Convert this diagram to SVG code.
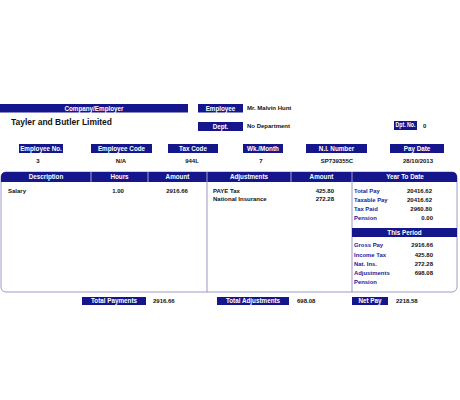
<svg xmlns="http://www.w3.org/2000/svg" width="460" height="400" viewBox="0 0 460 400">
<style>
.bar{fill:#16168c}
.bl{font-family:"Liberation Sans",Arial,sans-serif;font-weight:bold;font-size:6.3px;fill:#fff;text-anchor:middle}
.v{font-family:"Liberation Sans",Arial,sans-serif;font-weight:bold;font-size:6px;fill:#111}
.c{text-anchor:middle}
.r{text-anchor:end}
.lb{font-family:"Liberation Sans",Arial,sans-serif;font-weight:bold;font-size:5.9px;fill:#1a1a9a}
.div{stroke:#8c8cc4;stroke-width:0.9;fill:none}
.hd{stroke:#fff;stroke-width:0.6}
</style>
<rect width="460" height="400" fill="#fff"/>
<g id="company">
<rect class="bar" x="0" y="104" width="188" height="8.5"/>
<text class="bl" x="94" y="110.5">Company/Employer</text>
<text x="11" y="125" font-family="Liberation Sans,Arial,sans-serif" font-weight="bold" font-size="9.5" fill="#111" textLength="101" lengthAdjust="spacingAndGlyphs">Tayler and Butler Limited</text>
</g>
<g id="employee">
<rect class="bar" x="198" y="104" width="45" height="8.5"/>
<text class="bl" x="220.5" y="110.5">Employee</text>
<text class="v" x="247" y="110.3">Mr. Malvin Hunt</text>
</g>
<g id="dept">
<rect class="bar" x="198" y="122" width="45" height="9"/>
<text class="bl" x="220.5" y="128.7">Dept.</text>
<text class="v" x="247" y="127.6">No Department</text>
</g>
<g id="dptno">
<rect class="bar" x="394" y="121" width="23" height="9"/>
<text class="bl" x="405.5" y="127.4" font-size="5" textLength="20" lengthAdjust="spacingAndGlyphs">Dpt. No.</text>
<text class="v" x="423" y="127.5">0</text>
</g>
<g id="empno">
<rect class="bar" x="19" y="144" width="44" height="9"/>
<text class="bl" x="41" y="150.6">Employee No.</text>
<text class="v c" x="38" y="162.5">3</text>
</g>
<g id="empcode">
<rect class="bar" x="91" y="144" width="61" height="9"/>
<text class="bl" x="121.5" y="150.6">Employee Code</text>
<text class="v c" x="121" y="162.5">N/A</text>
</g>
<g id="taxcode">
<rect class="bar" x="168" y="144" width="50" height="9"/>
<text class="bl" x="193" y="150.6">Tax Code</text>
<text class="v c" x="192" y="162.5">944L</text>
</g>
<g id="wkmonth">
<rect class="bar" x="243" y="144" width="40" height="9"/>
<text class="bl" x="263" y="150.6">Wk./Month</text>
<text class="v c" x="261" y="162.5">7</text>
</g>
<g id="ninumber">
<rect class="bar" x="306" y="144" width="61" height="9"/>
<text class="bl" x="336.5" y="150.6">N.I. Number</text>
<text class="v c" x="337" y="162.5">SP739355C</text>
</g>
<g id="paydate">
<rect class="bar" x="390" y="144" width="54" height="9"/>
<text class="bl" x="417" y="150.6">Pay Date</text>
<text class="v c" x="418" y="162.5">28/10/2013</text>
</g>
<g id="table">
<rect x="1" y="172" width="456" height="120" rx="5" fill="#fff" stroke="#9a9acc" stroke-width="1"/>
<path class="bar" d="M1,182 V177 Q1,172 6,172 H452 Q457,172 457,177 V182 Z"/>
<line class="hd" x1="91" y1="172" x2="91" y2="182"/>
<line class="hd" x1="148" y1="172" x2="148" y2="182"/>
<line class="hd" x1="207" y1="172" x2="207" y2="182"/>
<line class="hd" x1="291" y1="172" x2="291" y2="182"/>
<line class="hd" x1="352" y1="172" x2="352" y2="182"/>
<line class="div" x1="207" y1="182" x2="207" y2="292"/>
<line class="div" x1="352" y1="182" x2="352" y2="292"/>
<text class="bl" x="46" y="179.3">Description</text>
<text class="bl" x="119.5" y="179.3">Hours</text>
<text class="bl" x="177.5" y="179.3">Amount</text>
<text class="bl" x="249" y="179.3">Adjustments</text>
<text class="bl" x="321.5" y="179.3">Amount</text>
<text class="bl" x="405" y="179.3">Year To Date</text>
<text class="v" x="8" y="192.5">Salary</text>
<text class="v c" x="118" y="192.5">1.00</text>
<text class="v c" x="177" y="192.5">2916.66</text>
<text class="v" x="213" y="192.5">PAYE Tax</text>
<text class="v" x="213" y="201">National Insurance</text>
<text class="v r" x="334" y="192.5">425.80</text>
<text class="v r" x="334" y="201">272.28</text>
</g>
<g id="ytd">
<text class="lb" x="354" y="192.5">Total Pay</text>
<text class="lb" x="354" y="202">Taxable Pay</text>
<text class="lb" x="354" y="211">Tax Paid</text>
<text class="lb" x="354" y="220">Pension</text>
<text class="v r" x="432" y="192.5">20416.62</text>
<text class="v r" x="432" y="202">20416.62</text>
<text class="v r" x="432" y="211">2960.80</text>
<text class="v r" x="433" y="220">0.00</text>
</g>
<g id="period">
<rect class="bar" x="352" y="228" width="105" height="9"/>
<text class="bl" x="404.5" y="234.6">This Period</text>
<text class="lb" x="354" y="247">Gross Pay</text>
<text class="lb" x="354" y="257">Income Tax</text>
<text class="lb" x="354" y="266">Nat. Ins.</text>
<text class="lb" x="354" y="275">Adjustments</text>
<text class="lb" x="354" y="284">Pension</text>
<text class="v r" x="433" y="247">2916.66</text>
<text class="v r" x="433" y="257">425.80</text>
<text class="v r" x="433" y="266">272.28</text>
<text class="v r" x="433" y="275">698.08</text>
</g>
<g id="totalpayments">
<rect class="bar" x="82" y="297" width="64" height="8"/>
<text class="bl" x="114" y="303.2">Total Payments</text>
<text class="v" x="153" y="302.5">2916.66</text>
</g>
<g id="totaladjustments">
<rect class="bar" x="217" y="297" width="72" height="8"/>
<text class="bl" x="253" y="303.2">Total Adjustments</text>
<text class="v" x="297" y="302.5">698.08</text>
</g>
<g id="netpay">
<rect class="bar" x="352" y="297" width="36" height="8"/>
<text class="bl" x="370" y="303.2">Net Pay</text>
<text class="v" x="396" y="302.5">2218.58</text>
</g>
</svg>
